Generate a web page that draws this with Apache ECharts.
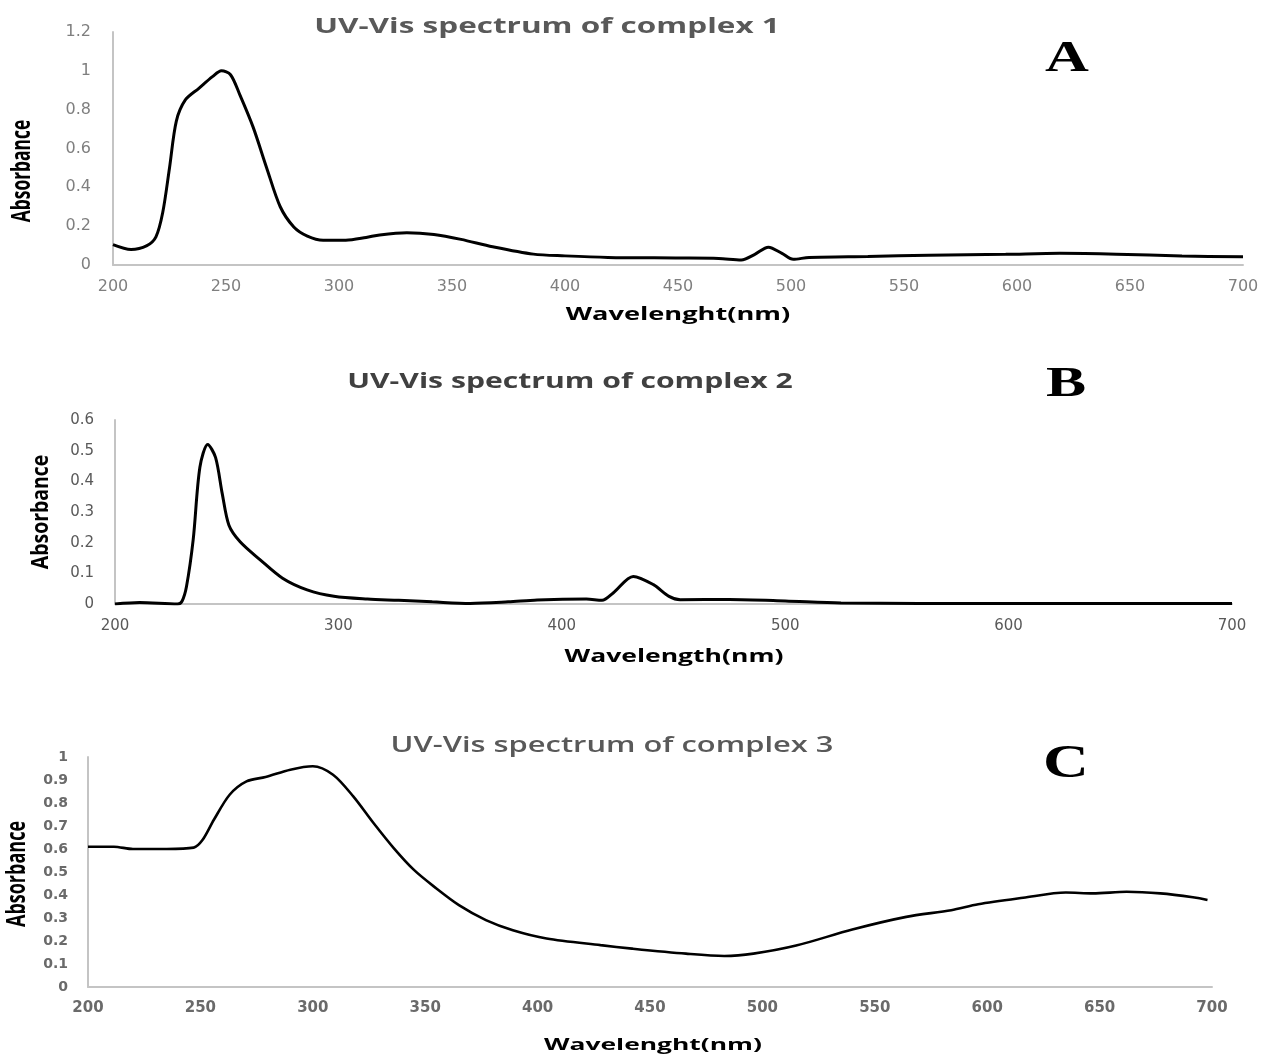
<!DOCTYPE html>
<html>
<head>
<meta charset="utf-8">
<style>html,body{margin:0;padding:0;background:#fff;}#c{width:1262px;height:1054px;}</style>
<script src="https://cdn.jsdelivr.net/npm/echarts@6/dist/echarts.min.js"></script>
</head>
<body>
<div id="c"></div>
<script>
// Panel A: complex 1
const wavelengthA = [200,208,215,219,222,225,228,232,238,244,248,252,256,262,268,274,280,286,293,303,312,318,330,342,354,368,386,400,419,449,468,478,484,490,496,501,508,534,561,595,619,644,673,700];
const absorbanceA = [0.105,0.08,0.10,0.145,0.27,0.50,0.74,0.85,0.91,0.97,1.0,0.98,0.88,0.71,0.50,0.30,0.196,0.149,0.128,0.128,0.142,0.155,0.166,0.157,0.132,0.094,0.056,0.047,0.039,0.036,0.034,0.026,0.055,0.092,0.06,0.029,0.039,0.044,0.05,0.055,0.06,0.056,0.046,0.043];
// Panel B: complex 2
const wavelengthB = [200,211,228,230,232,235,238,241.5,245,248,251,256,265,275,286,298,313,327,342,359,376,389,411,418,423,432,441,448,453,475,500,525,560,600,650,700];
const absorbanceB = [0,0.005,0,0.009,0.057,0.21,0.446,0.52,0.478,0.36,0.257,0.203,0.144,0.084,0.046,0.025,0.016,0.012,0.007,0.002,0.007,0.013,0.016,0.012,0.036,0.09,0.063,0.025,0.014,0.015,0.01,0.003,0.002,0.002,0.002,0.002];
// Panel C: complex 3
const wavelengthC = [200,211.5,220,235,247,251,256,263,270.5,279,290,300,309,318,327,336,345,354,365,377,389,404,428,442,466,483,496,515,540,564,584,596,616,635,647,662,677,691.5,698];
const absorbanceC = [0.61,0.61,0.60,0.60,0.606,0.64,0.727,0.836,0.894,0.913,0.945,0.96,0.923,0.829,0.713,0.604,0.509,0.436,0.356,0.291,0.247,0.211,0.182,0.167,0.145,0.135,0.145,0.18,0.25,0.305,0.334,0.36,0.388,0.411,0.407,0.414,0.407,0.39,0.378];

const titles = ['UV-Vis spectrum of complex 1','UV-Vis spectrum of complex 2','UV-Vis spectrum of complex 3'];
const panelLetters = ['A','B','C'];
const xNames = ['Wavelenght(nm)','Wavelength(nm)','Wavelenght(nm)'];
const yName = 'Absorbance';

const pairs = (xs, ys) => xs.map((x, i) => [x, ys[i]]);

const axisLineStyle = {show: true, lineStyle: {color: '#c4c4c4', width: 2}};
function xAx(idx, interval, labelStyle) {
  return {type: 'value', gridIndex: idx, min: 200, max: 700, interval: interval,
    axisLine: axisLineStyle, axisTick: {show: false}, splitLine: {show: false},
    axisLabel: labelStyle};
}
function yAx(idx, max, interval, labelStyle) {
  return {type: 'value', gridIndex: idx, min: 0, max: max, interval: interval,
    axisLine: axisLineStyle, axisTick: {show: false}, splitLine: {show: false},
    axisLabel: labelStyle};
}
const tickFont = 'DejaVu Sans';

function txt(text, x, y, font, fill, sx, sy, rot) {
  return {type: 'text', x: x, y: y, scaleX: sx || 1, scaleY: sy || 1, rotation: rot || 0, silent: true,
    style: {text: text, font: font, fill: fill, textAlign: 'center', textVerticalAlign: 'middle'}};
}

const chart = echarts.init(document.getElementById('c'), null, {renderer: 'canvas'});
chart.setOption({
  animation: false,
  backgroundColor: '#ffffff',
  grid: [
    {left: 113, right: 19, top: 32, bottom: 789},
    {left: 115, right: 30, top: 420, bottom: 450},
    {left: 88, right: 50, top: 757, bottom: 67}
  ],
  xAxis: [
    xAx(0, 50, {margin: 14, color: '#7f7f7f', fontSize: 16, fontFamily: tickFont}),
    xAx(1, 100, {margin: 15, color: '#595959', fontSize: 15, fontFamily: tickFont}),
    xAx(2, 50, {margin: 14, color: '#6a6a6a', fontSize: 15, fontWeight: 'bold', fontFamily: tickFont})
  ],
  yAxis: [
    yAx(0, 1.2, 0.2, {margin: 22, color: '#7f7f7f', fontSize: 16, fontFamily: tickFont}),
    yAx(1, 0.6, 0.1, {margin: 21, color: '#595959', fontSize: 15, fontFamily: tickFont}),
    yAx(2, 1, 0.1, {margin: 20, color: '#6a6a6a', fontSize: 14, fontWeight: 'bold', fontFamily: tickFont})
  ],
  series: [
    {type: 'line', xAxisIndex: 0, yAxisIndex: 0, data: pairs(wavelengthA, absorbanceA), smooth: 0.3, showSymbol: false, lineStyle: {color: '#000', width: 3}},
    {type: 'line', xAxisIndex: 1, yAxisIndex: 1, data: pairs(wavelengthB, absorbanceB), smooth: 0.3, showSymbol: false, lineStyle: {color: '#000', width: 3}},
    {type: 'line', xAxisIndex: 2, yAxisIndex: 2, data: pairs(wavelengthC, absorbanceC), smooth: 0.3, showSymbol: false, lineStyle: {color: '#000', width: 2.6}}
  ],
  graphic: [
    txt(titles[0], 547, 27, 'bold 21px "Open Sans"', '#595959', 1.5, 1),
    txt(titles[1], 570, 382, 'bold 22px "Open Sans"', '#404040', 1.37, 1),
    txt(titles[2], 612, 746, '600 21px "Open Sans"', '#595959', 1.47, 1),
    txt(panelLetters[0], 1067, 59, 'bold 45px "Liberation Serif"', '#000', 1.35, 1),
    txt(panelLetters[1], 1066, 385, 'bold 43px "Liberation Serif"', '#000', 1.4, 1),
    txt(panelLetters[2], 1066, 765, 'bold 47px "Liberation Serif"', '#000', 1.35, 1),
    txt(xNames[0], 678, 315, 'bold 17px "Open Sans"', '#000', 1.6, 1),
    txt(xNames[1], 674, 657, 'bold 17px "Open Sans"', '#000', 1.56, 1),
    txt(xNames[2], 653, 1045, 'bold 16px "Open Sans"', '#000', 1.65, 1),
    txt(yName, 23, 171, 'bold 20px "Open Sans"', '#000', 0.87, 1.3, Math.PI / 2),
    txt(yName, 41, 512, 'bold 20px "Open Sans"', '#000', 0.97, 1.2, Math.PI / 2),
    txt(yName, 18, 874, 'bold 20px "Open Sans"', '#000', 0.9, 1.3, Math.PI / 2)
  ]
});
</script>
</body>
</html>
